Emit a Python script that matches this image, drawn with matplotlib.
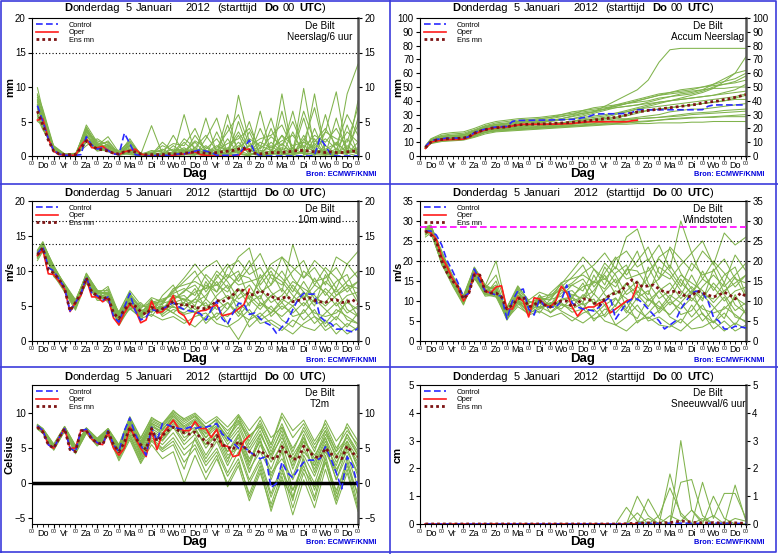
import matplotlib
matplotlib.use("Agg")
import matplotlib.pyplot as plt
from matplotlib.lines import Line2D

plt.rcParams["font.family"] = ["Liberation Sans", "DejaVu Sans"]

W_PX, H_PX = 778, 554

DAYS = ["Do", "Vr", "Za", "Zo", "Ma", "Di", "Wo", "Do",
        "Vr", "Za", "Zo", "Ma", "Di", "Wo", "Do"]

HOURS = list(range(6, 361, 6))
OPER_HOURS = HOURS[:40]
MEMBER_HOURS = [6] + list(range(12, 361, 12))

# ---------------- Neerslag / 6 uur ----------------
PRECIP_CONTROL = [7.3, 5.0, 2.5, 0.8, 0.3, 0.1, 0.1, 0.1, 0.2, 2.8,
                  1.6, 1.0, 1.2, 0.8, 0.3, 0.2, 3.3, 1.8, 0.2, 0.1,
                  0.0, 0.0, 0.1, 0.1, 0.1, 0.2, 0.3, 0.3, 0.5, 0.7,
                  0.9, 0.7, 0.5, 0.1, 0.1, 0.1, 0.1, 0.2, 1.2, 2.3,
                  0.5, 0.0, 0.0, 0.0, 0.0, 0.0, 0.0, 0.0, 0.0, 0.0,
                  0.0, 0.1, 2.6, 1.5, 0.2, 0.0, 0.0, 0.0, 0.0, 0.0]
PRECIP_OPER = [5.2, 5.4, 2.5, 0.7, 0.2, 0.1, 0.1, 0.1, 1.5, 2.5,
               1.2, 1.2, 1.4, 0.8, 0.4, 0.2, 0.6, 0.8, 1.0, 0.3,
               0.1, 0.0, 0.0, 0.0, 0.0, 0.1, 0.2, 0.3, 0.4, 0.6,
               0.2, 0.1, 0.0, 0.0, 0.0, 0.0, 0.0, 0.0, 0.9, 1.0]
PRECIP_MEAN = [6.5, 4.5, 2.3, 0.7, 0.3, 0.2, 0.2, 0.2, 1.2, 2.2,
               1.5, 1.0, 0.9, 0.7, 0.4, 0.3, 0.6, 0.7, 0.6, 0.3,
               0.2, 0.2, 0.2, 0.2, 0.3, 0.3, 0.3, 0.4, 0.5, 0.6,
               0.5, 0.4, 0.4, 0.5, 0.6, 0.7, 0.8, 1.0, 1.1, 0.8,
               0.4, 0.3, 0.4, 0.5, 0.5, 0.5, 0.6, 0.7, 0.8, 0.8,
               0.7, 0.6, 0.6, 0.5, 0.6, 0.5, 0.5, 0.6, 0.7, 0.7]
PRECIP_MEMBERS = [
    [9.9, 6.5, 1.0, 0.2, 0.1, 3.5, 1.2, 0.8, 0.2, 1.5, 0.1, 0.0, 0.2, 0.5, 1.2, 0.3,
     5.5, 0.4, 0.0, 8.8, 2.0, 0.0, 0.5, 3.0, 0.2, 9.8, 1.0, 0.3, 0.0, 2.5, 0.4],
    [8.0, 5.5, 1.2, 0.1, 0.0, 4.5, 2.0, 1.0, 0.3, 2.5, 0.2, 4.4, 0.3, 0.1, 0.5, 2.0,
     0.3, 0.1, 4.5, 0.5, 0.0, 1.2, 5.5, 0.3, 0.0, 2.0, 7.0, 0.5, 0.2, 9.0, 13.3],
    [6.0, 4.0, 0.8, 0.0, 0.2, 2.0, 1.5, 2.8, 0.5, 0.2, 0.0, 0.3, 1.0, 0.2, 6.0, 0.4,
     0.0, 3.5, 0.2, 1.0, 5.0, 0.0, 0.2, 0.8, 6.5, 0.3, 0.0, 3.5, 9.3, 0.5, 1.0],
    [7.5, 5.0, 0.6, 0.2, 0.3, 3.0, 0.8, 1.8, 0.2, 0.5, 0.4, 0.2, 0.1, 1.5, 0.3, 3.0,
     0.8, 0.2, 0.0, 5.0, 0.5, 0.0, 4.0, 0.2, 0.5, 5.5, 0.3, 6.0, 0.5, 0.2, 5.5],
    [5.0, 4.5, 1.5, 0.3, 0.1, 2.5, 1.0, 1.2, 0.8, 2.0, 0.2, 0.5, 0.2, 0.3, 2.0, 0.5,
     1.5, 0.1, 2.5, 0.3, 0.0, 6.5, 0.4, 0.1, 3.5, 0.2, 2.5, 0.1, 0.3, 1.5, 0.2],
    [8.5, 6.0, 0.9, 0.1, 0.0, 4.0, 1.8, 0.6, 0.1, 1.0, 0.0, 0.1, 0.5, 0.2, 0.1, 1.2,
     0.2, 0.0, 0.8, 3.0, 0.1, 0.5, 0.0, 9.0, 0.2, 0.0, 4.0, 0.3, 0.0, 4.5, 0.3],
    [6.5, 5.5, 1.1, 0.2, 0.1, 1.5, 2.5, 1.5, 0.4, 0.3, 0.1, 0.2, 2.0, 0.6, 0.2, 0.1,
     2.5, 5.5, 0.3, 0.1, 1.5, 0.2, 2.0, 0.6, 0.1, 3.0, 0.2, 0.1, 2.0, 0.4, 0.0],
    [7.0, 4.8, 0.7, 0.1, 0.2, 3.8, 1.3, 2.2, 0.3, 1.8, 0.3, 0.1, 0.2, 3.0, 0.4, 0.2,
     0.1, 0.3, 6.0, 0.2, 3.5, 0.1, 0.3, 6.5, 0.2, 0.5, 9.0, 0.4, 1.0, 0.3, 8.0],
    [5.5, 3.8, 1.3, 0.3, 0.4, 2.2, 0.7, 1.0, 0.2, 0.8, 0.2, 0.3, 0.0, 0.2, 1.0, 0.5,
     0.2, 0.1, 0.2, 1.5, 0.8, 0.3, 0.2, 1.8, 0.4, 0.5, 0.2, 1.5, 0.3, 0.5, 1.0],
    [9.0, 6.8, 1.4, 0.2, 0.1, 4.2, 1.6, 1.4, 0.6, 2.2, 0.1, 0.4, 0.3, 0.2, 0.5, 0.8,
     1.0, 2.5, 0.2, 0.3, 0.2, 4.0, 0.5, 0.2, 0.2, 2.5, 0.8, 0.2, 5.5, 0.3, 2.0],
    [6.8, 5.2, 0.9, 0.1, 0.1, 3.2, 1.1, 0.9, 0.1, 0.6, 0.1, 0.1, 0.2, 0.1, 0.3, 0.2,
     0.6, 0.2, 0.4, 2.0, 0.3, 0.1, 0.2, 0.5, 1.2, 0.3, 0.4, 0.2, 0.5, 0.8, 0.3],
    [7.8, 5.8, 1.0, 0.2, 0.1, 2.8, 1.4, 1.1, 0.3, 1.2, 0.2, 0.2, 0.4, 0.3, 0.8, 0.4,
     0.3, 1.0, 0.3, 0.6, 1.0, 0.4, 1.5, 0.3, 0.6, 0.4, 1.8, 0.2, 0.7, 0.5, 0.6],
    [8.2, 6.2, 1.1, 0.1, 0.2, 3.6, 1.7, 2.0, 0.4, 1.4, 0.3, 0.6, 0.8, 1.8, 1.5, 4.0,
     0.5, 1.2, 3.5, 6.0, 1.5, 2.5, 3.0, 4.5, 1.0, 6.5, 2.0, 4.0, 1.5, 6.0, 3.0],
    [6.2, 4.6, 0.8, 0.2, 0.1, 2.4, 1.0, 0.7, 0.1, 0.4, 0.1, 0.2, 0.3, 0.1, 0.2, 0.4,
     0.2, 0.5, 0.3, 0.8, 0.2, 0.6, 0.4, 1.0, 0.3, 0.7, 0.5, 0.8, 0.4, 0.6, 0.5],
    [7.2, 5.6, 1.2, 0.3, 0.2, 3.4, 2.2, 1.6, 0.5, 1.6, 0.2, 0.8, 0.6, 0.4, 2.5, 1.2,
     3.0, 0.8, 1.8, 2.5, 4.0, 1.0, 2.8, 1.5, 5.0, 1.2, 3.0, 2.0, 4.0, 1.0, 4.5],
    [8.8, 6.4, 1.3, 0.2, 0.3, 4.0, 1.5, 1.3, 0.3, 2.0, 0.4, 0.3, 1.5, 0.8, 0.6, 2.2,
     1.2, 0.6, 1.0, 3.5, 0.8, 2.0, 1.2, 2.2, 3.0, 0.8, 1.5, 3.5, 2.5, 2.0, 7.0],
    [5.8, 4.2, 0.7, 0.1, 0.1, 2.0, 0.9, 1.0, 0.2, 0.7, 0.1, 0.2, 0.2, 0.6, 0.4, 0.3,
     0.8, 0.4, 1.2, 0.5, 1.5, 0.8, 0.6, 1.2, 0.8, 1.5, 0.6, 1.0, 1.8, 0.7, 1.2],
    [7.4, 5.4, 1.0, 0.2, 0.2, 3.0, 1.2, 1.5, 0.4, 1.0, 0.2, 0.4, 0.4, 1.0, 0.8, 1.0,
     0.5, 1.5, 0.8, 1.2, 2.5, 1.5, 0.8, 3.0, 1.5, 2.0, 1.2, 2.5, 1.0, 3.5, 2.0],
]

# ---------------- Accum neerslag ----------------
ACCUM_CONTROL = [7.0, 11.0, 12.0, 12.5, 13.0, 13.0, 13.0, 13.0, 14.0, 17.0,
                 18.5, 19.5, 20.5, 21.0, 21.2, 21.5, 25.0, 25.8, 25.8, 25.8,
                 25.9, 26.0, 26.0, 26.1, 26.2, 26.3, 26.4, 26.5, 27.0, 27.8,
                 28.5, 30.0, 30.5, 30.6, 30.6, 30.6, 30.7, 30.9, 31.5, 33.5,
                 33.5, 33.5, 33.5, 33.5, 33.5, 33.5, 33.5, 33.5, 33.5, 33.5,
                 33.5, 33.6, 36.0, 37.0, 37.0, 37.0, 37.0, 37.0, 37.0, 37.0]
ACCUM_OPER = [5.5, 10.0, 11.0, 11.5, 11.8, 12.0, 12.0, 12.2, 13.5, 16.0,
              17.5, 19.0, 20.0, 20.5, 20.8, 21.0, 21.8, 22.5, 23.0, 23.0,
              23.0, 23.0, 23.0, 23.0, 23.1, 23.2, 23.4, 23.6, 24.0, 24.5,
              24.7, 24.8, 24.8, 24.8, 24.8, 24.8, 24.8, 24.8, 25.5, 26.0]
ACCUM_MEAN = [6.0, 10.0, 11.5, 12.0, 12.5, 12.6, 12.8, 13.0, 14.0, 16.5,
              18.0, 19.0, 20.0, 20.5, 20.8, 21.0, 22.0, 22.5, 22.8, 23.0,
              23.1, 23.2, 23.3, 23.5, 23.7, 23.9, 24.1, 24.4, 24.7, 25.0,
              25.5, 26.0, 26.5, 27.0, 27.5, 28.0, 28.8, 29.8, 31.0, 32.0,
              32.5, 33.0, 33.5, 34.0, 34.5, 35.0, 35.5, 36.0, 36.5, 37.0,
              37.5, 38.5, 39.0, 39.5, 40.0, 41.0, 41.5, 42.5, 43.5, 44.5]
ACCUM_MEMBERS = [
    [7, 11, 14, 15, 15.5, 18, 21, 23, 24, 25, 26, 27, 28, 29, 30, 31,
     32, 36, 40, 44, 48, 55, 68, 77, 78, 78, 78, 78, 78, 78, 78],
    [6, 10, 12, 12.5, 13, 16, 19, 20.5, 21, 22, 22.5, 23, 23.5, 24, 25, 26,
     27, 28, 30, 32, 34, 36, 38, 40, 42, 44, 46, 49, 54, 60, 72],
    [6, 9.5, 11, 11.5, 12, 14.5, 17, 18.5, 19, 19.5, 20, 20.5, 21, 21.5, 22, 22.5,
     23, 23.5, 24, 24.5, 25, 25.5, 26, 26.5, 27, 27.5, 28, 28.5, 29, 29.5, 30],
    [7, 12, 15, 16, 16.5, 19, 22, 24, 25, 26, 26.5, 27, 28, 30, 32, 33,
     34, 35, 36, 38, 39, 40, 42, 43, 44, 45, 47, 50, 52, 53, 55],
    [5.5, 9, 10.5, 11, 11.5, 13.5, 16, 17.5, 18, 18.5, 19, 19.5, 20, 20.5, 21, 21.5,
     22, 22.5, 23, 23, 23.5, 23.5, 24, 24, 24, 24.5, 24.5, 25, 25, 25, 25],
    [6.5, 11, 13, 13.5, 14, 17, 20, 21.5, 22, 24, 24.5, 25, 25.5, 26, 27, 29,
     31, 33, 35, 36, 37, 39, 41, 43, 45, 46, 48, 52, 56, 60, 62],
    [6, 10.5, 12.5, 13, 13.5, 16.5, 19, 20, 20.5, 21.5, 22, 23, 23.5, 24, 25, 26,
     26.5, 27, 28, 29, 31, 33, 34, 35, 36, 37, 38, 39, 40, 41, 41],
    [7.5, 12.5, 16, 17, 17.5, 20, 23, 25, 26, 27, 27.5, 28, 29, 30, 31, 32,
     33, 34, 35, 36, 37, 38, 39, 40, 41, 42, 43, 44, 45, 46, 47],
    [6, 10, 11.5, 12, 12.5, 15, 18, 19, 19.5, 20, 20.5, 21, 21.5, 22, 23, 24,
     25, 26, 27, 27, 28, 29, 30, 32, 33, 34, 34, 35, 36, 37, 38],
    [6.5, 11, 13.5, 14, 14.5, 17.5, 20.5, 22, 22.5, 23.5, 24, 24.5, 25.5, 27, 29, 31,
     32, 34, 36, 38, 40, 42, 44, 46, 48, 49, 50, 51, 52, 54, 58],
    [5.5, 9.5, 11, 11.5, 12, 14, 17, 18, 18.5, 19, 19.5, 20, 20.5, 21, 21.5, 22,
     22.5, 23, 23.5, 24, 24.5, 25, 26, 27, 27.5, 28, 28, 28, 28.5, 28.5, 28.5],
    [7, 12, 14.5, 15, 15.5, 18.5, 21.5, 23, 23.5, 25, 25.5, 26, 27, 28.5, 30, 33,
     35, 36, 37, 38, 40, 42, 44, 45, 46, 47, 48, 49, 49, 50, 50],
    [6.5, 10.5, 12.5, 13, 13.5, 16, 19, 20.5, 21, 22, 22.5, 23, 23.5, 24, 25, 27,
     28, 29, 31, 33, 35, 37, 39, 40, 41, 42, 43, 44, 46, 48, 52],
    [6, 10, 12, 12.5, 13, 15.5, 18.5, 19.5, 20, 21, 21.5, 22, 22.5, 23, 24, 25,
     26, 27, 28, 30, 32, 33, 34, 35, 36, 37, 38, 39, 40, 42, 44],
    [7, 11.5, 14, 14.5, 15, 18, 21, 22.5, 23, 24.5, 25, 25.5, 26, 27, 28.5, 30,
     32, 34, 37, 39, 41, 43, 45, 46, 47, 48, 50, 52, 54, 56, 60],
    [5.5, 9.5, 11, 11.5, 12, 14.5, 17.5, 18.5, 19, 19.5, 20, 20.5, 21, 21.5, 22, 22.5,
     23.5, 24.5, 25, 26, 27, 27.5, 28, 29, 30, 31, 31.5, 32, 33, 33.5, 34],
    [6.5, 11, 13, 13.5, 14, 17, 20, 21, 21.5, 22.5, 23, 24, 25, 26, 27, 28,
     29, 30, 31, 32, 34, 35, 36, 37, 38, 39, 40, 41, 42, 43, 45],
    [6, 10.5, 12, 12.5, 13, 15.5, 18.5, 19.5, 20, 20.5, 21, 21.5, 22, 22.5, 23, 23.5,
     24, 25, 26, 26.5, 27, 27.5, 28, 28.5, 29, 30, 30.5, 31, 31.5, 32, 32.5],
]

# ---------------- 10m wind ----------------
WIND_CONTROL = [12.5, 13.5, 10.5, 10.0, 8.8, 7.6, 4.3, 5.5, 6.7, 9.2,
                6.8, 6.5, 5.8, 6.3, 3.5, 2.7, 4.8, 6.8, 4.3, 3.0,
                3.4, 4.5, 4.3, 4.6, 5.0, 5.5, 4.9, 4.5, 4.3, 4.2,
                3.9, 3.0, 4.5, 5.7, 3.2, 2.4, 4.0, 5.4, 5.3, 3.8,
                4.0, 3.2, 2.6, 2.2, 1.1, 2.0, 2.8, 4.5, 6.0, 6.8,
                6.7, 6.7, 3.5, 2.8, 2.5, 1.7, 1.7, 1.5, 1.3, 1.8]
WIND_OPER = [12.2, 13.0, 9.6, 9.5, 8.5, 7.4, 4.2, 5.5, 6.5, 8.9,
             6.3, 6.3, 5.6, 6.1, 3.3, 2.3, 4.0, 5.3, 4.5, 2.6,
             3.0, 5.7, 4.0, 4.2, 5.0, 6.5, 4.1, 3.6, 2.3, 3.9,
             4.3, 4.4, 4.8, 5.2, 3.6, 3.8, 4.0, 4.6, 5.2, 7.4]
WIND_MEAN = [12.3, 13.3, 10.2, 9.7, 8.8, 7.5, 4.3, 5.5, 6.8, 9.0,
             7.0, 6.5, 6.0, 6.3, 4.0, 3.2, 4.5, 5.3, 5.0, 4.2,
             3.8, 4.8, 4.3, 4.6, 5.0, 5.7, 5.0, 5.3, 5.0, 4.8,
             4.7, 4.6, 5.0, 5.8, 5.6, 6.0, 6.6, 7.4, 7.2, 6.5,
             6.7, 7.2, 6.8, 6.4, 6.0, 6.1, 6.4, 5.6, 5.8, 6.0,
             6.2, 5.8, 5.6, 5.5, 5.9, 5.9, 5.5, 5.6, 5.9, 5.3]
WIND_MEMBERS = [
    [12.0, 13.0, 9.5, 7.4, 5.0, 9.3, 6.5, 6.0, 3.0, 5.5, 3.5, 5.0, 4.0, 6.0, 7.0, 9.0,
     10.5, 11.5, 9.0, 12.0, 13.3, 8.0, 10.0, 7.0, 13.8, 9.0, 10.5, 8.0, 12.0, 11.0, 12.8],
    [12.8, 13.8, 10.2, 7.8, 5.5, 8.8, 7.0, 6.5, 2.5, 6.0, 4.0, 4.5, 5.0, 4.0, 3.0, 2.0,
     3.5, 5.0, 2.5, 0.2, 3.0, 4.0, 2.5, 1.5, 3.0, 2.0, 1.5, 3.0, 1.0, 2.5, 1.5],
    [11.5, 12.8, 9.8, 7.2, 4.8, 9.0, 6.2, 7.5, 3.5, 4.5, 5.5, 4.0, 6.5, 8.0, 5.0, 6.0,
     8.0, 7.0, 9.0, 10.0, 6.0, 8.5, 11.0, 12.0, 9.0, 7.0, 5.0, 9.5, 6.5, 8.0, 5.5],
    [13.0, 14.2, 10.5, 8.0, 5.8, 9.5, 7.3, 5.5, 4.2, 7.0, 3.0, 5.8, 4.5, 5.5, 6.0, 4.5,
     5.5, 3.0, 4.5, 6.5, 8.0, 5.5, 4.0, 6.0, 5.0, 3.0, 4.5, 2.0, 3.5, 2.0, 4.0],
    [12.3, 13.5, 9.2, 7.6, 5.2, 8.2, 6.8, 7.0, 3.2, 6.5, 4.5, 3.5, 5.5, 7.0, 8.5, 10.0,
     7.0, 9.0, 11.0, 8.5, 10.5, 12.5, 9.0, 8.0, 10.0, 11.5, 8.0, 10.5, 9.0, 7.0, 8.5],
    [12.5, 13.2, 10.0, 7.5, 5.0, 9.0, 6.0, 6.2, 2.8, 5.0, 3.8, 6.0, 3.5, 4.5, 4.0, 5.0,
     2.5, 4.0, 3.5, 5.0, 2.0, 3.5, 5.0, 3.0, 2.0, 4.5, 2.5, 4.0, 5.5, 3.0, 2.5],
    [11.8, 13.0, 9.6, 7.3, 4.6, 8.6, 6.6, 6.4, 3.8, 5.2, 4.2, 5.2, 5.8, 6.8, 7.5, 6.5,
     9.5, 8.0, 7.0, 9.5, 9.0, 7.0, 8.0, 10.0, 7.5, 6.0, 8.0, 7.0, 5.0, 6.5, 7.0],
    [12.6, 13.9, 10.8, 7.9, 5.4, 9.7, 7.2, 7.2, 4.0, 6.2, 5.0, 4.8, 4.2, 5.2, 5.5, 7.5,
     4.5, 6.5, 8.0, 4.0, 6.5, 5.0, 6.5, 4.5, 6.0, 8.5, 6.0, 5.5, 7.5, 4.5, 3.5],
    [12.2, 13.4, 9.4, 7.0, 4.4, 8.4, 5.8, 5.8, 2.2, 4.8, 3.2, 3.8, 3.0, 3.5, 2.5, 3.5,
     4.0, 2.5, 2.0, 3.0, 4.5, 2.5, 3.0, 2.0, 1.0, 2.5, 3.5, 1.5, 2.5, 1.0, 2.0],
    [12.9, 14.0, 10.4, 8.2, 5.9, 9.2, 6.9, 6.8, 3.4, 6.8, 4.8, 5.5, 6.0, 6.5, 6.0, 5.5,
     6.5, 8.5, 6.0, 7.5, 5.0, 9.5, 7.0, 5.5, 8.0, 6.0, 9.0, 6.5, 8.5, 9.5, 6.0],
    [12.1, 13.1, 9.9, 7.7, 5.1, 8.9, 6.4, 6.1, 3.6, 5.8, 4.4, 4.2, 4.8, 4.0, 5.5, 4.0,
     6.0, 4.5, 5.5, 3.5, 5.5, 6.5, 3.5, 5.0, 4.0, 5.5, 4.0, 3.5, 4.0, 5.5, 4.5],
    [12.7, 13.6, 10.6, 7.6, 5.3, 9.4, 7.1, 6.6, 3.0, 6.4, 3.6, 5.4, 5.2, 7.5, 8.0, 8.5,
     7.5, 10.0, 8.5, 6.0, 7.0, 6.0, 9.5, 8.5, 6.5, 5.0, 7.0, 8.5, 7.0, 8.5, 10.0],
    [12.4, 13.7, 10.1, 7.7, 5.6, 9.1, 6.7, 7.8, 3.9, 6.6, 4.6, 6.2, 5.6, 7.2, 9.0, 11.0,
     9.0, 7.0, 10.5, 11.5, 9.5, 10.5, 8.0, 12.0, 10.5, 9.0, 11.5, 10.0, 7.5, 11.0, 9.0],
    [12.0, 13.2, 9.7, 7.4, 4.9, 8.7, 6.3, 5.9, 2.6, 4.6, 3.4, 4.6, 3.8, 5.0, 3.8, 4.2,
     3.0, 3.5, 5.5, 4.0, 3.0, 5.5, 4.5, 3.5, 5.0, 6.5, 3.5, 2.5, 4.5, 3.5, 2.5],
    [12.6, 13.6, 10.3, 7.8, 5.3, 9.3, 6.9, 6.9, 3.7, 6.0, 4.3, 5.0, 4.6, 6.2, 6.5, 5.0,
     8.5, 6.0, 4.5, 7.5, 6.0, 4.5, 6.5, 7.5, 5.5, 7.0, 5.5, 7.5, 6.0, 4.0, 5.0],
    [12.3, 13.3, 10.0, 7.5, 5.2, 9.0, 6.6, 6.3, 3.3, 5.6, 3.9, 5.6, 5.4, 5.8, 7.2, 8.0,
     6.0, 9.5, 7.5, 9.0, 11.5, 7.5, 5.5, 6.5, 8.5, 7.5, 6.5, 5.0, 6.5, 7.5, 8.5],
    [12.8, 13.9, 10.7, 8.1, 5.7, 9.6, 7.2, 6.7, 4.1, 7.2, 5.2, 4.4, 5.0, 4.8, 4.5, 6.0,
     5.0, 5.5, 6.5, 5.5, 4.0, 3.0, 4.0, 5.5, 3.5, 4.0, 6.0, 4.5, 3.0, 6.0, 3.5],
    [11.9, 12.9, 9.5, 7.2, 4.7, 8.5, 6.1, 6.0, 3.1, 5.3, 3.7, 4.9, 4.4, 6.6, 5.8, 7.0,
     7.5, 8.0, 9.5, 8.0, 8.5, 9.0, 10.5, 9.0, 7.0, 10.0, 8.5, 9.0, 10.5, 8.0, 7.5],
]

# ---------------- Windstoten ----------------
GUST_CONTROL = [27.5, 27.5, 26.5, 24.0, 20.0, 17.5, 14.5, 11.0, 12.0, 18.0,
                15.0, 12.5, 12.0, 11.5, 11.2, 5.5, 10.0, 12.5, 13.0, 8.0,
                6.5, 10.5, 8.5, 8.5, 8.5, 10.0, 14.0, 9.5, 8.5, 8.0,
                7.8, 7.5, 8.5, 10.0, 11.0, 5.5, 7.5, 9.5, 10.5, 10.5,
                9.5, 8.0, 6.5, 5.0, 3.0, 4.0, 5.0, 8.0, 10.0, 12.0,
                12.5, 12.0, 10.0, 6.0, 5.0, 3.0, 3.0, 3.7, 3.5, 3.3]
GUST_OPER = [27.5, 27.0, 25.5, 21.0, 18.5, 15.5, 13.5, 10.0, 12.0, 17.0,
             16.5, 12.5, 12.0, 13.5, 13.8, 8.0, 8.0, 11.0, 10.0, 6.0,
             10.8, 10.5, 9.0, 8.5, 10.0, 13.7, 12.0, 8.5, 6.2, 8.0,
             8.5, 8.5, 9.5, 10.0, 7.0, 8.0, 9.0, 10.0, 10.5, 14.0]
GUST_MEAN = [27.5, 26.5, 25.0, 20.0, 17.0, 15.0, 13.5, 10.5, 12.0, 16.5,
             16.5, 12.5, 12.0, 12.0, 11.0, 8.0, 9.0, 10.5, 11.0, 8.5,
             9.0, 10.0, 9.0, 8.5, 9.5, 10.0, 10.0, 8.5, 9.5, 10.5,
             10.5, 9.5, 9.0, 10.5, 11.5, 12.0, 12.5, 14.0, 15.3, 14.5,
             13.5, 13.8, 14.0, 13.0, 12.2, 12.2, 12.5, 12.0, 11.0, 11.2,
             12.5, 12.0, 11.5, 11.0, 11.5, 12.2, 11.5, 10.5, 12.0, 11.2]
GUST_MEMBERS = [
    [27.0, 28.5, 20.0, 14.5, 10.0, 17.5, 12.5, 14.0, 6.5, 11.0, 8.5, 10.0, 9.0, 13.0, 14.5, 17.0,
     19.0, 22.0, 18.0, 26.0, 28.0, 20.0, 24.0, 18.0, 30.0, 22.0, 25.0, 19.0, 27.0, 24.0, 26.0],
    [28.0, 27.5, 21.5, 15.5, 10.5, 16.5, 13.0, 12.0, 5.5, 10.0, 7.0, 8.0, 9.5, 7.5, 6.0, 4.5,
     6.5, 9.0, 4.0, 2.5, 5.0, 6.0, 4.0, 3.5, 5.5, 3.0, 3.5, 5.0, 2.5, 4.5, 3.0],
    [26.0, 27.0, 19.5, 14.0, 9.5, 17.0, 11.5, 15.0, 7.0, 9.0, 10.0, 8.5, 12.0, 14.5, 10.0, 11.0,
     15.0, 13.0, 17.0, 19.0, 12.0, 16.0, 21.0, 23.0, 17.0, 13.0, 10.0, 18.0, 12.0, 16.0, 11.0],
    [28.5, 29.0, 22.0, 16.0, 11.0, 18.5, 14.0, 11.0, 8.5, 13.0, 6.5, 11.5, 8.5, 10.5, 11.0, 9.0,
     10.5, 6.0, 9.0, 12.5, 15.0, 10.5, 8.0, 11.5, 9.5, 6.0, 9.0, 4.5, 7.0, 4.0, 8.0],
    [27.5, 28.0, 19.0, 15.0, 10.2, 15.5, 12.8, 13.5, 6.0, 12.5, 9.0, 7.0, 10.5, 13.5, 16.0, 19.0,
     13.5, 17.0, 21.0, 16.5, 20.0, 23.5, 17.0, 15.5, 19.0, 22.0, 15.5, 20.0, 17.0, 13.5, 16.5],
    [27.8, 27.2, 20.5, 14.8, 9.8, 17.2, 11.8, 12.2, 5.8, 9.8, 7.5, 11.5, 7.0, 9.0, 8.0, 9.5,
     5.0, 8.0, 7.0, 10.0, 4.5, 7.0, 10.0, 6.0, 4.5, 9.0, 5.0, 8.0, 11.0, 6.0, 5.0],
    [26.5, 27.8, 19.8, 14.2, 9.2, 16.2, 12.2, 12.8, 7.5, 10.2, 8.2, 10.2, 11.0, 13.0, 14.0, 12.5,
     18.0, 15.5, 13.5, 18.0, 17.5, 13.5, 15.5, 19.0, 14.5, 12.0, 15.5, 13.5, 10.0, 12.5, 13.5],
    [28.2, 28.8, 22.5, 15.8, 10.8, 18.2, 13.8, 20.0, 8.0, 12.0, 9.8, 9.5, 8.2, 10.2, 10.8, 14.5,
     9.0, 12.5, 15.5, 8.0, 12.5, 10.0, 12.5, 9.0, 11.5, 16.5, 11.5, 10.5, 14.5, 9.0, 7.0],
    [27.2, 27.6, 19.2, 13.8, 9.0, 15.8, 11.2, 11.5, 5.2, 9.5, 6.5, 7.5, 6.0, 7.0, 5.0, 7.0,
     8.0, 5.0, 4.0, 6.0, 9.0, 5.0, 6.0, 4.0, 2.5, 5.0, 7.0, 3.0, 5.0, 2.5, 4.0],
    [28.6, 28.2, 21.2, 16.2, 11.2, 17.8, 13.4, 13.2, 6.8, 13.2, 9.4, 10.8, 11.6, 12.6, 11.6, 10.6,
     12.6, 16.5, 11.6, 14.5, 10.0, 18.5, 13.5, 10.6, 15.5, 11.6, 17.5, 12.6, 16.5, 18.5, 11.6],
    [26.8, 27.4, 20.2, 15.2, 10.0, 16.8, 12.0, 12.4, 7.2, 11.4, 8.8, 8.2, 9.4, 8.0, 10.8, 8.0,
     11.8, 9.0, 10.8, 7.0, 10.8, 12.6, 7.0, 9.8, 8.0, 10.8, 8.0, 7.0, 8.0, 10.8, 9.0],
    [28.0, 28.4, 21.8, 15.0, 10.4, 18.0, 13.6, 13.0, 6.2, 12.4, 7.2, 10.6, 10.2, 14.6, 15.6, 16.5,
     14.6, 19.5, 16.5, 11.6, 13.6, 11.6, 18.5, 16.5, 12.6, 10.0, 13.6, 16.5, 13.6, 16.5, 19.5],
    [27.6, 28.6, 21.6, 15.6, 10.6, 17.6, 13.2, 16.5, 8.2, 13.5, 10.2, 12.2, 11.2, 14.2, 17.5, 21.0,
     18.0, 14.0, 20.5, 22.5, 18.5, 20.5, 15.5, 23.5, 20.5, 17.5, 22.5, 19.5, 14.5, 21.5, 17.5],
    [27.0, 27.8, 20.4, 14.6, 9.6, 16.4, 11.6, 11.0, 5.6, 8.6, 6.8, 8.6, 7.2, 9.6, 7.2, 8.0,
     5.6, 6.6, 10.6, 7.6, 5.6, 10.6, 8.6, 6.6, 9.6, 12.6, 6.6, 4.6, 8.6, 6.6, 4.6],
    [28.0, 28.2, 21.0, 15.4, 10.4, 17.4, 13.0, 13.0, 7.0, 11.6, 8.4, 9.6, 8.8, 12.0, 12.6, 9.6,
     16.5, 11.6, 8.6, 14.5, 11.6, 8.6, 12.6, 14.5, 10.6, 13.6, 10.6, 14.5, 11.6, 7.6, 9.6],
    [27.4, 28.0, 20.6, 14.9, 10.1, 16.9, 12.4, 11.8, 6.4, 10.8, 7.6, 10.8, 10.4, 11.2, 14.0, 15.5,
     11.6, 18.5, 14.5, 17.5, 22.5, 14.5, 10.6, 12.6, 16.5, 14.5, 12.6, 9.6, 12.6, 14.5, 16.5],
    [28.4, 28.6, 22.2, 16.4, 11.4, 18.4, 14.0, 12.6, 8.4, 13.8, 10.0, 8.4, 9.6, 9.2, 8.6, 11.6,
     9.6, 10.6, 12.6, 10.6, 7.6, 5.6, 7.6, 10.6, 6.6, 7.6, 11.6, 8.6, 5.6, 11.6, 6.6],
    [26.6, 27.2, 19.6, 14.4, 9.4, 16.0, 11.6, 11.6, 6.0, 10.2, 7.2, 9.4, 8.4, 12.8, 11.2, 13.6,
     14.5, 15.5, 18.5, 15.5, 16.5, 17.5, 20.5, 17.5, 13.6, 19.5, 16.5, 17.5, 20.5, 15.5, 14.5],
]

# ---------------- T2m ----------------
T2M_CONTROL = [8.2, 7.5, 5.5, 5.0, 6.5, 7.8, 5.0, 4.5, 7.5, 7.7,
               6.5, 5.8, 5.5, 7.5, 5.5, 4.5, 7.5, 9.3, 7.0, 5.5,
               4.0, 8.0, 6.0, 8.5, 8.3, 8.0, 7.8, 7.7, 8.0, 7.8,
               8.0, 8.0, 8.2, 8.5, 7.0, 6.5, 5.8, 5.0, 5.2, 4.5,
               4.0, 3.5, 3.8, -0.6, 0.0, 3.0, 1.5, 0.8, 2.0, 3.0,
               3.3, 3.3, 3.5, 5.2, 3.5, 1.5, -0.8, 3.8, 2.5, -0.5]
T2M_OPER = [8.0, 7.5, 5.5, 5.0, 6.5, 7.8, 5.0, 5.0, 7.5, 7.5,
            6.3, 5.7, 5.5, 7.2, 5.0, 4.0, 5.0, 8.0, 6.5, 5.0,
            3.8, 7.5, 4.8, 7.0, 8.0, 9.0, 7.8, 7.5, 7.5, 8.8,
            7.8, 7.8, 6.5, 7.7, 5.3, 5.3, 3.8, 4.0, 6.0, 6.8]
T2M_MEAN = [8.0, 7.3, 5.5, 5.0, 6.5, 7.8, 4.8, 4.5, 7.5, 7.5,
            6.3, 5.8, 5.5, 7.3, 5.5, 4.5, 5.8, 8.0, 6.5, 5.5,
            4.8, 7.8, 6.0, 6.8, 7.5, 8.0, 7.5, 7.2, 7.0, 7.3,
            6.5, 6.0, 5.3, 6.8, 5.5, 5.2, 4.8, 6.0, 5.2, 4.5,
            4.0, 4.7, 4.0, 3.6, 3.5, 5.2, 4.2, 3.5, 3.4, 5.3,
            4.5, 3.8, 3.6, 5.0, 4.2, 3.8, 3.5, 5.3, 4.3, 3.8]
T2M_MEMBERS = [
    [8.2, 7.6, 5.2, 7.9, 4.8, 7.6, 5.9, 7.4, 4.5, 8.5, 5.0, 8.0, 7.5, 9.5, 8.0, 9.0,
     6.5, 8.0, 5.5, 7.5, 3.0, 6.0, 1.0, 5.0, -1.0, 3.0, 0.0, 4.5, 1.5, 5.5, 3.0],
    [7.8, 7.2, 4.8, 7.6, 4.4, 7.3, 5.4, 7.0, 3.8, 7.0, 3.5, 6.5, 5.0, 6.5, 4.0, 5.5,
     2.5, 4.5, 1.0, 3.5, -2.0, 2.0, -4.0, 1.0, -4.5, 0.5, -3.5, 2.0, -3.0, 1.5, -4.0],
    [8.4, 7.8, 5.6, 8.1, 5.4, 7.9, 6.4, 7.8, 5.5, 9.5, 6.5, 9.2, 8.5, 10.4, 9.0, 9.8,
     8.0, 9.0, 7.5, 9.0, 6.5, 8.5, 5.5, 10.0, 7.5, 9.0, 6.0, 8.5, 5.0, 7.5, 5.5],
    [8.0, 7.4, 5.0, 7.8, 4.6, 7.5, 5.7, 7.2, 4.2, 8.0, 4.5, 7.5, 6.5, 8.5, 7.0, 8.0,
     5.0, 7.0, 3.5, 6.0, 1.5, 5.5, 2.0, 6.0, 2.5, 6.5, 3.0, 7.0, 4.0, 6.0, 3.5],
    [8.1, 7.5, 5.3, 7.7, 5.0, 7.7, 6.1, 7.5, 4.8, 8.8, 5.5, 8.5, 7.8, 9.0, 7.5, 8.5,
     6.0, 7.5, 4.0, 5.0, 0.5, 3.5, -1.5, 2.5, -2.5, 4.0, 1.0, 5.0, 0.5, 4.0, -0.5],
    [7.9, 7.3, 4.9, 7.5, 4.3, 7.2, 5.6, 7.0, 3.5, 6.5, 3.0, 6.0, 4.5, 5.5, 2.0, 6.5,
     3.5, 6.0, 2.5, 5.5, 3.0, 7.0, 4.0, 8.0, 5.0, 7.5, 4.5, 9.0, 6.0, 8.0, 5.0],
    [8.3, 7.7, 5.4, 8.0, 5.2, 7.8, 6.3, 7.7, 5.2, 9.0, 6.0, 8.8, 8.0, 9.8, 8.5, 9.5,
     7.5, 8.5, 6.5, 8.5, 5.0, 7.5, 3.5, 7.0, 2.0, 6.0, 1.5, 5.5, 0.5, 5.0, 1.0],
    [8.0, 7.5, 5.1, 7.8, 4.7, 7.5, 5.8, 7.3, 4.3, 8.2, 4.0, 7.0, 6.0, 8.0, 5.5, 7.0,
     4.0, 6.5, 3.0, 7.0, 2.5, 6.5, 0.5, 4.5, -2.0, 3.5, -1.0, 3.5, -2.5, 3.0, -3.0],
    [8.2, 7.6, 5.2, 7.9, 4.9, 7.6, 6.0, 7.6, 4.6, 8.6, 5.2, 8.2, 7.0, 9.2, 7.8, 8.8,
     7.0, 8.2, 6.0, 8.0, 4.5, 7.0, 4.0, 6.5, 3.5, 6.0, 4.0, 6.5, 3.0, 5.5, 2.5],
    [7.7, 7.1, 4.7, 7.4, 4.2, 7.1, 5.3, 6.8, 3.2, 6.2, 2.8, 5.5, 3.5, 4.5, 0.0, 4.0,
     0.5, 3.5, 0.0, 3.0, -1.5, 2.5, -3.0, 1.5, -1.0, 2.5, -2.0, 4.0, -1.5, 3.5, -2.0],
    [8.1, 7.4, 5.0, 7.7, 4.8, 7.4, 5.9, 7.3, 4.4, 8.0, 4.8, 7.8, 6.8, 8.8, 7.2, 8.5,
     6.5, 8.8, 6.0, 9.5, 5.5, 8.0, 5.0, 8.5, 4.5, 8.0, 5.0, 7.5, 3.5, 7.0, 4.5],
    [8.3, 7.6, 5.3, 7.8, 5.1, 7.7, 6.2, 7.5, 4.9, 8.4, 5.3, 8.4, 7.2, 9.0, 6.5, 7.5,
     5.5, 7.0, 4.5, 6.5, 2.0, 4.5, 1.5, 3.5, 0.5, 4.5, 2.5, 6.0, 2.0, 4.5, 1.5],
    [8.1, 7.6, 5.2, 7.9, 5.0, 7.6, 6.1, 7.6, 4.7, 8.7, 5.6, 8.6, 7.6, 9.6, 8.2, 9.2,
     7.2, 8.6, 6.6, 8.8, 6.0, 9.0, 5.5, 9.5, 6.5, 8.5, 5.5, 8.0, 4.5, 6.5, 4.0],
    [7.9, 7.3, 4.9, 7.6, 4.5, 7.3, 5.5, 7.1, 4.0, 7.4, 3.8, 6.8, 5.5, 7.2, 4.8, 6.2,
     3.0, 5.0, 1.5, 4.5, 0.0, 3.0, -2.0, 2.0, -3.5, 1.5, -2.5, 3.0, -1.0, 2.5, -1.5],
    [8.2, 7.7, 5.4, 8.0, 5.1, 7.8, 6.2, 7.6, 5.0, 9.2, 5.8, 9.0, 8.2, 10.0, 8.8, 9.6,
     7.8, 9.2, 7.0, 9.6, 6.8, 8.2, 4.5, 7.5, 3.0, 7.0, 2.5, 6.5, 1.5, 6.0, 2.0],
    [8.0, 7.4, 5.1, 7.7, 4.7, 7.4, 5.8, 7.3, 4.4, 7.8, 4.2, 7.2, 6.2, 8.2, 6.0, 7.8,
     5.5, 7.8, 4.5, 7.0, 3.5, 6.0, 3.0, 5.5, 1.0, 5.0, 2.0, 5.5, 2.5, 7.0, 4.0],
    [8.3, 7.8, 5.5, 8.1, 5.3, 7.9, 6.4, 7.8, 5.4, 9.4, 6.3, 9.4, 8.4, 10.2, 9.2, 10.0,
     8.5, 9.5, 8.0, 9.8, 7.5, 9.5, 6.5, 8.0, 4.0, 6.5, 3.5, 7.5, 4.5, 8.5, 6.0],
    [7.8, 7.2, 4.8, 7.5, 4.4, 7.2, 5.5, 7.0, 3.7, 6.8, 3.3, 6.2, 4.8, 6.0, 3.0, 5.0,
     1.5, 4.0, -0.5, 2.5, -2.5, 1.5, -3.5, 0.5, -2.0, 2.0, -0.5, 3.0, -2.0, 2.0, -3.5],
]

# ---------------- Sneeuwval / 6 uur ----------------
SNOW_CONTROL = [0.0, 0.0, 0.0, 0.0, 0.0, 0.0, 0.0, 0.0, 0.0, 0.0,
                0.0, 0.0, 0.0, 0.0, 0.0, 0.0, 0.0, 0.0, 0.0, 0.0,
                0.0, 0.0, 0.0, 0.0, 0.0, 0.0, 0.0, 0.0, 0.0, 0.0,
                0.0, 0.0, 0.0, 0.0, 0.0, 0.0, 0.0, 0.0, 0.0, 0.02,
                0.02, 0.02, 0.02, 0.02, 0.02, 0.03, 0.03, 0.03, 0.03, 0.02,
                0.02, 0.02, 0.02, 0.03, 0.03, 0.02, 0.02, 0.02, 0.02, 0.02]
SNOW_OPER = [0.0, 0.0, 0.0, 0.0, 0.0, 0.0, 0.0, 0.0, 0.0, 0.0,
             0.0, 0.0, 0.0, 0.0, 0.0, 0.0, 0.0, 0.0, 0.0, 0.0,
             0.0, 0.0, 0.0, 0.0, 0.0, 0.0, 0.0, 0.0, 0.0, 0.0,
             0.0, 0.0, 0.0, 0.0, 0.0, 0.0, 0.0, 0.0, 0.0, 0.0]
SNOW_MEAN = [0.0, 0.0, 0.0, 0.0, 0.0, 0.0, 0.0, 0.0, 0.0, 0.0,
             0.0, 0.0, 0.0, 0.0, 0.0, 0.0, 0.0, 0.0, 0.0, 0.0,
             0.0, 0.0, 0.0, 0.0, 0.0, 0.0, 0.0, 0.0, 0.0, 0.0,
             0.0, 0.0, 0.0, 0.0, 0.0, 0.0, 0.0, 0.01, 0.02, 0.03,
             0.03, 0.04, 0.04, 0.03, 0.04, 0.05, 0.08, 0.1, 0.1, 0.06,
             0.05, 0.04, 0.04, 0.05, 0.04, 0.04, 0.05, 0.04, 0.03, 0.03]
SNOW_MEMBERS = [
    [0, 0, 0, 0, 0, 0, 0, 0, 0, 0, 0, 0, 0, 0, 0, 0,
     0, 0, 0, 0.6, 0.1, 0, 0, 1.8, 0.3, 0, 0.2, 0, 0, 0, 0],
    [0, 0, 0, 0, 0, 0, 0, 0, 0, 0, 0, 0, 0, 0, 0, 0,
     0, 0, 0, 0, 1.0, 0.3, 0, 0, 3.0, 0.5, 0, 1.0, 0.2, 0, 0],
    [0, 0, 0, 0, 0, 0, 0, 0, 0, 0, 0, 0, 0, 0, 0, 0,
     0, 0, 0, 0, 0, 0.9, 0.2, 0, 1.5, 1.6, 0.3, 0, 0, 1.4, 0.1],
    [0, 0, 0, 0, 0, 0, 0, 0, 0, 0, 0, 0, 0, 0, 0, 0,
     0, 0, 0, 0, 0.4, 0, 0.3, 1.3, 0.4, 0, 1.5, 0.2, 1.1, 1.1, 0.2],
    [0, 0, 0, 0, 0, 0, 0, 0, 0, 0, 0, 0, 0, 0, 0, 0,
     0, 0, 0, 0, 0, 0.2, 0, 0.3, 0.1, 0.5, 0.1, 0.3, 0, 0.2, 0.1],
]

GREEN = "#80b34c"
BLUE = "#2a2aff"
RED = "#ff1c1c"
BROWN = "#7d1414"
FRAME = "#3c3cdc"
TITLE_SIZE = 8


def px_rect(left, top, width, bottom):
    return [left / W_PX, 1 - bottom / H_PX, width / W_PX, (bottom - top) / H_PX]


def draw_title(fig, xc, yc):
    renderer = fig.canvas.get_renderer()
    # (word, weight, gap after it in pixels)
    parts = [("D", "bold", 0), ("onderdag", "normal", 5), ("5", "normal", 5),
             ("Januari", "normal", 12), ("2012", "normal", 7),
             ("(starttijd", "normal", 7), ("Do", "bold", 4), ("00", "normal", 4),
             ("UTC", "bold", 0), (")", "normal", 0)]
    texts = []
    total = 0
    for s, weight, gap in parts:
        t = fig.text(0, 1 - yc / H_PX, s, fontsize=TITLE_SIZE, fontweight=weight,
                     va="center", ha="left")
        w = t.get_window_extent(renderer).width / W_PX
        texts.append((t, w, gap / W_PX))
        total += w + gap / W_PX
    x = xc / W_PX - total / 2
    for t, w, g in texts:
        t.set_x(x)
        x += w + g


def draw_panel(fig, rect, control, oper, mean, members, ylim, yticks,
               ylabel, name, levels):
    ax = fig.add_axes(rect)
    for m in members:
        ax.plot(MEMBER_HOURS, m, color=GREEN, lw=0.75, zorder=2)
    for y, color, style, lw in levels:
        ax.axhline(y, color=color, ls=style, lw=lw, zorder=3)
    ax.plot(OPER_HOURS, oper, color=RED, lw=1.2, zorder=4, label="Oper")
    ax.plot(HOURS, control, color=BLUE, lw=1.2, ls=(0, (4, 2)), zorder=5,
            label="Control")
    ax.plot(HOURS, mean, color=BROWN, lw=2.0, ls=(0, (1, 1.1)), zorder=6,
            label="Ens mn")

    ax.set_xlim(0, 360)
    ax.set_ylim(*ylim)
    ax.set_yticks(yticks)
    ax.tick_params(axis="y", which="both", left=True, right=True,
                   labelright=True, direction="out", length=3, labelsize=7,
                   pad=1.5)
    ax.set_xticks(range(0, 361, 24))
    ax.set_xticks(range(0, 361, 6), minor=True)
    ax.set_xticklabels(["00"] * 16)
    ax.tick_params(axis="x", which="major", length=3, labelsize=3.8, pad=0.5)
    ax.tick_params(axis="x", which="minor", length=2)
    for sp in ("left", "top", "bottom"):
        ax.spines[sp].set_linewidth(0.8)
    ax.spines["right"].set_linewidth(1.8)
    ax.spines["right"].set_color("#555555")

    for i, day in enumerate(DAYS):
        ax.annotate(day, xy=(12 + 24 * i, 0), xycoords=("data", "axes fraction"),
                    xytext=(0, -9), textcoords="offset pixels", ha="center",
                    va="center", fontsize=6.5)
    ax.annotate("Dag", xy=(0.5, 0), xycoords="axes fraction", xytext=(0, -18),
                textcoords="offset pixels", ha="center", va="center",
                fontsize=9.5, fontweight="bold")
    ax.annotate("Bron: ECMWF/KNMI", xy=(1, 0), xycoords="axes fraction",
                xytext=(18, -19), textcoords="offset pixels", ha="right",
                va="center", fontsize=5.3, fontweight="bold", color="#0000dd")
    ax.annotate(ylabel, xy=(0, 0.5), xycoords="axes fraction", xytext=(-22, 0),
                textcoords="offset pixels", ha="center", va="center",
                rotation=90, fontsize=8, fontweight="bold")
    ax.text(0.883, 0.975, "De Bilt\n" + name, transform=ax.transAxes,
            ha="center", va="top", fontsize=7.2, linespacing=1.1,
            multialignment="center", zorder=7)

    handles = [
        Line2D([], [], color=BLUE, lw=1.2, ls=(0, (4, 2))),
        Line2D([], [], color=RED, lw=1.2),
        Line2D([], [], color=BROWN, lw=2.0, ls=(0, (1, 1.1))),
    ]
    ax.legend(handles, ["Control", "Oper", "Ens mn"], loc="upper left",
              frameon=False, fontsize=5.3, handlelength=3.0, handletextpad=1.5,
              labelspacing=0.05, borderaxespad=0.3, borderpad=0.2)
    return ax


def main():
    fig = plt.figure(figsize=(W_PX / 100, H_PX / 100), dpi=100)

    dotted = (0, (1, 2))
    panels = [
        (px_rect(32, 18, 326, 156), PRECIP_CONTROL, PRECIP_OPER, PRECIP_MEAN,
         PRECIP_MEMBERS, (0, 20), [0, 5, 10, 15, 20], "mm", "Neerslag/6 uur",
         [(15, "black", dotted, 0.8)]),
        (px_rect(420, 18, 326, 156), ACCUM_CONTROL, ACCUM_OPER, ACCUM_MEAN,
         ACCUM_MEMBERS, (0, 100), list(range(0, 101, 10)), "mm",
         "Accum Neerslag", []),
        (px_rect(32, 201, 326, 341), WIND_CONTROL, WIND_OPER, WIND_MEAN,
         WIND_MEMBERS, (0, 20), [0, 5, 10, 15, 20], "m/s", "10m wind",
         [(10.8, "black", dotted, 0.8), (13.9, "black", dotted, 0.8),
          (17.2, "black", dotted, 0.8)]),
        (px_rect(420, 201, 326, 341), GUST_CONTROL, GUST_OPER, GUST_MEAN,
         GUST_MEMBERS, (0, 35), list(range(0, 36, 5)), "m/s", "Windstoten",
         [(20, "black", dotted, 0.8), (25, "black", dotted, 0.8),
          (28.5, "#ff00ff", (0, (4, 2)), 1.2)]),
        (px_rect(32, 385, 326, 524), T2M_CONTROL, T2M_OPER, T2M_MEAN,
         T2M_MEMBERS, (-5.8, 14), [-5, 0, 5, 10], "Celsius", "T2m",
         [(0, "black", "-", 2.5)]),
        (px_rect(420, 385, 326, 524), SNOW_CONTROL, SNOW_OPER, SNOW_MEAN,
         SNOW_MEMBERS, (0, 5), [0, 1, 2, 3, 4, 5], "cm", "Sneeuwval/6 uur", []),
    ]
    for p in panels:
        draw_panel(fig, *p)

    for xc in (195, 583):
        for yc in (8, 193, 377):
            draw_title(fig, xc, yc)

    # panel separators and outer frame
    for y in (1 - 183.5 / H_PX, 1 - 366.5 / H_PX):
        fig.add_artist(Line2D([0, 1], [y, y], color=FRAME, lw=1.2))
    fig.add_artist(Line2D([389.5 / W_PX] * 2, [0, 1], color=FRAME, lw=1.2))
    x0, x1 = 1 / W_PX, 1 - 2 / W_PX
    y0, y1 = 2 / H_PX, 1 - 1 / H_PX
    fig.add_artist(Line2D([x0, x1, x1, x0, x0], [y0, y0, y1, y1, y0],
                          color=FRAME, lw=1.2))

    fig.savefig("out.png", dpi=100)


if __name__ == "__main__":
    main()
